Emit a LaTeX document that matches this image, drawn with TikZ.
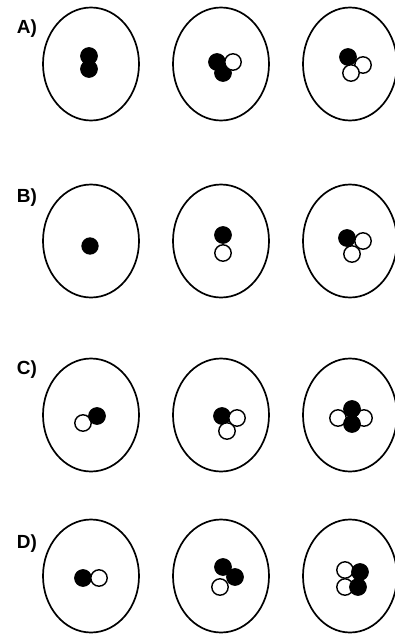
\documentclass[tikz,border=0pt]{standalone}
\usepackage{fontspec}
\setmainfont{Liberation Sans}
\begin{document}
\begin{tikzpicture}[x=1pt,y=-1pt,
  cell/.style={line width=1.7pt},
  bdot/.style={fill=black,draw=black,line width=1.3pt},
  wdot/.style={fill=white,draw=black,line width=1.4pt},
  lbl/.style={font=\bfseries\fontsize{19}{19}\selectfont,inner sep=0pt}]
\useasboundingbox (0,0) rectangle (395,634);
\def\r{8.2}
% labels
\node[lbl] (la) at (27,29) {A)};
\node[lbl] (lb) at (27,198) {B)};
\node[lbl] (lc) at (27,370) {C)};
\node[lbl] (ld) at (27,544) {D)};
% ellipses
\foreach \y in {64,241,415,576}{
  \draw[cell] (91,\y) ellipse [x radius=48, y radius=56.5];
  \draw[cell] (221,\y) ellipse [x radius=48, y radius=56.5];
  \draw[cell] (350,\y) ellipse [x radius=47, y radius=56.5];
}
% Row A
\draw[bdot] (89,56) circle (\r);
\draw[bdot] (89,69) circle (\r);
\draw[bdot] (217,62) circle (\r);
\draw[bdot] (223,73) circle (\r);
\draw[wdot] (233,62) circle (\r);
\draw[bdot] (348,57) circle (\r);
\draw[wdot] (363,65) circle (\r);
\draw[wdot] (351,73) circle (\r);
% Row B
\draw[bdot] (90,246) circle (8);
\draw[wdot] (223,253) circle (\r);
\draw[bdot] (223,235) circle (\r);
\draw[bdot] (347,238) circle (\r);
\draw[wdot] (363,241) circle (\r);
\draw[wdot] (352,254) circle (\r);
% Row C
\draw[wdot] (83,423) circle (\r);
\draw[bdot] (97,416) circle (\r);
\draw[bdot] (222,416) circle (\r);
\draw[wdot] (237,418) circle (\r);
\draw[wdot] (227,431) circle (\r);
\draw[wdot] (338,418) circle (\r);
\draw[wdot] (364,418) circle (\r);
\draw[bdot] (352,409) circle (\r);
\draw[bdot] (352,424) circle (\r);
% Row D
\draw[bdot] (83,578) circle (\r);
\draw[wdot] (99,578) circle (\r);
\draw[bdot] (223,567) circle (\r);
\draw[bdot] (235,577) circle (\r);
\draw[wdot] (220,587) circle (\r);
\draw[wdot] (345,570) circle (\r);
\draw[wdot] (345,587) circle (\r);
\draw[bdot] (360,572) circle (\r);
\draw[bdot] (358,587) circle (\r);
\end{tikzpicture}
\end{document}
